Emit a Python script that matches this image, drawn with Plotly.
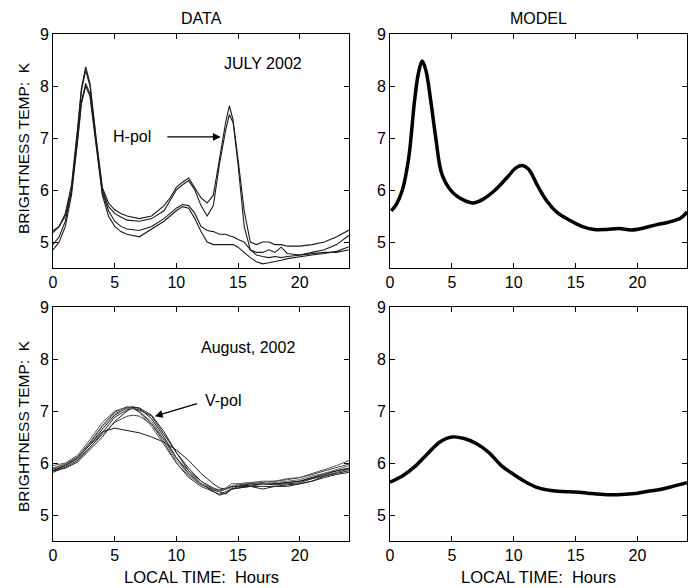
import plotly.graph_objects as go

# ---------------- DATA ----------------
# Top-left: July 2002 data, H-pol
x_jul = [0, 0.5, 1, 1.5, 2, 2.3, 2.65, 3, 3.5, 4, 4.5, 5, 5.5, 6, 7, 8, 9, 9.5, 10, 10.5,
         11, 11.5, 12, 12.5, 13, 13.5, 14, 14.3, 14.6, 15, 15.5, 16, 16.5, 17, 17.5, 18,
         18.5, 19, 20, 21, 22, 23, 24]
jul_a = [5.18, 5.3, 5.55, 6.1, 7.2, 7.95, 8.37, 8.05, 7.0, 6.05, 5.75, 5.62, 5.55, 5.5, 5.45,
         5.5, 5.7, 5.85, 6.05, 6.15, 6.23, 6.05, 5.85, 5.75, 5.9, 6.6, 7.3, 7.62, 7.35, 6.6,
         5.6, 5.0, 4.95, 5.0, 5.0, 4.95, 4.95, 4.92, 4.92, 4.95, 5.0, 5.1, 5.23]
jul_b = [4.95, 5.1, 5.4, 6.0, 7.15, 7.9, 8.3, 8.0, 6.95, 6.0, 5.68, 5.55, 5.48, 5.42, 5.4,
         5.45, 5.6, 5.8, 6.0, 6.1, 6.18, 6.0, 5.7, 5.5, 5.7, 6.5, 7.15, 7.45, 7.3, 6.5,
         5.3, 4.85, 4.8, 4.8, 4.85, 4.8, 4.9, 4.78, 4.75, 4.8, 4.85, 4.95, 5.13]
jul_c = [5.22, 5.3, 5.5, 6.0, 7.0, 7.7, 8.05, 7.85, 6.9, 5.95, 5.6, 5.4, 5.3, 5.25, 5.22,
         5.3, 5.45, 5.55, 5.65, 5.72, 5.7, 5.55, 5.3, 5.22, 5.2, 5.15, 5.15, 5.12, 5.1, 5.05,
         5.0, 4.85, 4.75, 4.72, 4.7, 4.72, 4.7, 4.72, 4.75, 4.78, 4.8, 4.8, 4.85]
jul_d = [4.85, 5.0, 5.3, 5.9, 6.95, 7.65, 8.0, 7.8, 6.85, 5.9, 5.5, 5.3, 5.2, 5.15, 5.1,
         5.25, 5.4, 5.5, 5.6, 5.68, 5.65, 5.45, 5.2, 5.0, 4.95, 4.95, 4.95, 4.95, 4.95, 4.9,
         4.8, 4.7, 4.62, 4.58, 4.6, 4.62, 4.65, 4.68, 4.72, 4.75, 4.78, 4.82, 4.91]

# Bottom-left: August 2002 data, V-pol
x_aug = [0, 1, 2, 3, 4, 5, 6, 6.5, 7, 8, 9, 10, 11, 12, 13, 13.5, 14, 14.5, 15, 16, 17, 18,
         19, 20, 21, 22, 23, 24]
aug_1 = [5.85, 5.95, 6.1, 6.35, 6.65, 6.92, 7.06, 7.08, 7.05, 6.85, 6.5, 6.1, 5.8, 5.6, 5.48,
         5.45, 5.5, 5.55, 5.55, 5.58, 5.6, 5.6, 5.62, 5.65, 5.72, 5.8, 5.85, 5.9]
aug_2 = [5.9, 5.98, 6.12, 6.4, 6.72, 6.98, 7.08, 7.07, 7.0, 6.75, 6.4, 6.0, 5.72, 5.55, 5.45,
         5.4, 5.45, 5.5, 5.55, 5.55, 5.6, 5.58, 5.6, 5.62, 5.7, 5.75, 5.82, 5.88]
aug_3 = [5.82, 5.92, 6.05, 6.3, 6.58, 6.88, 7.02, 7.05, 7.02, 6.9, 6.55, 6.2, 5.9, 5.65, 5.5,
         5.45, 5.4, 5.5, 5.52, 5.55, 5.55, 5.55, 5.58, 5.6, 5.65, 5.75, 5.8, 5.85]
aug_4 = [5.88, 5.95, 6.08, 6.3, 6.55, 6.78, 6.9, 6.92, 6.9, 6.75, 6.45, 6.1, 5.85, 5.65, 5.52,
         5.48, 5.5, 5.55, 5.58, 5.6, 5.62, 5.65, 5.68, 5.72, 5.78, 5.85, 5.92, 5.98]
aug_5 = [5.85, 5.95, 6.1, 6.35, 6.6, 6.67, 6.63, 6.6, 6.58, 6.5, 6.4, 6.25, 6.05, 5.8, 5.6,
         5.52, 5.5, 5.55, 5.55, 5.6, 5.6, 5.6, 5.62, 5.65, 5.7, 5.78, 5.85, 5.9]
aug_6 = [5.95, 6.0, 6.15, 6.45, 6.78, 7.0, 7.07, 7.05, 6.98, 6.7, 6.35, 6.0, 5.75, 5.58, 5.5,
         5.48, 5.52, 5.6, 5.6, 5.62, 5.65, 5.65, 5.7, 5.72, 5.8, 5.88, 5.95, 6.05]
aug_7 = [5.85, 5.9, 6.02, 6.25, 6.5, 6.8, 7.0, 7.07, 7.06, 6.92, 6.6, 6.2, 5.85, 5.6, 5.45,
         5.38, 5.42, 5.5, 5.52, 5.55, 5.5, 5.55, 5.55, 5.6, 5.65, 5.72, 5.78, 5.82]
aug_8 = [5.9, 5.98, 6.1, 6.38, 6.7, 6.95, 7.05, 7.04, 6.98, 6.8, 6.45, 6.05, 5.78, 5.6, 5.5,
         5.45, 5.5, 5.52, 5.6, 5.62, 5.6, 5.62, 5.65, 5.68, 5.75, 5.8, 5.88, 5.95]

# Top-right: model (July)
x_mod1 = [0.1, 0.5, 1, 1.5, 2, 2.3, 2.6, 2.9, 3.3, 3.7, 4.2, 5, 6, 6.7, 7.5, 8.5, 9.5, 10.2,
          10.7, 11.2, 12, 12.7, 13.5, 14.5, 15.5, 16.5, 17.5, 18.5, 19.5, 20.5, 21.5, 22.5,
          23.5, 24]
y_mod1 = [5.6, 5.72, 6.0, 6.6, 7.75, 8.25, 8.48, 8.3, 7.7, 7.0, 6.3, 5.97, 5.8, 5.75, 5.82,
          6.0, 6.25, 6.43, 6.47, 6.4, 6.05, 5.78, 5.57, 5.42, 5.3, 5.24, 5.24, 5.26, 5.23,
          5.27, 5.33, 5.38, 5.46, 5.58]

# Bottom-right: model (August)
x_mod2 = [0, 1, 2, 3, 4, 5, 6, 7, 8, 9, 10, 11, 12, 13, 14, 15, 16, 17, 18, 19, 20, 21, 22,
          23, 24]
y_mod2 = [5.63, 5.75, 5.93, 6.17, 6.4, 6.5, 6.47, 6.37, 6.2, 5.95, 5.78, 5.63, 5.52, 5.47,
          5.45, 5.44, 5.42, 5.4, 5.39, 5.4, 5.42, 5.46, 5.5, 5.56, 5.62]

x_ticks = [0, 5, 10, 15, 20]
y_ticks = [5, 6, 7, 8, 9]

# ---------------- FIGURE ----------------
FONT = "Liberation Sans, Arial, Helvetica, sans-serif"
fig = go.Figure()

for ys in [jul_a, jul_b, jul_c, jul_d]:
    fig.add_trace(go.Scatter(x=x_jul, y=ys, mode="lines", xaxis="x", yaxis="y",
                             line=dict(color="#1a1a1a", width=1.1), showlegend=False))

fig.add_trace(go.Scatter(x=x_mod1, y=y_mod1, mode="lines", xaxis="x2", yaxis="y2",
                         line=dict(color="black", width=3.5, shape="spline"), showlegend=False))

aug_colors = ["#111", "#333", "#222", "#444", "#1a1a1a", "#555", "#222", "#666"]
for ys, c in zip([aug_1, aug_2, aug_3, aug_4, aug_5, aug_6, aug_7, aug_8], aug_colors):
    fig.add_trace(go.Scatter(x=x_aug, y=ys, mode="lines", xaxis="x3", yaxis="y3",
                             line=dict(color=c, width=1.0), showlegend=False))

fig.add_trace(go.Scatter(x=x_mod2, y=y_mod2, mode="lines", xaxis="x4", yaxis="y4",
                         line=dict(color="black", width=3.5, shape="spline"), showlegend=False))

W, H = 695, 588
def xd(a, b):
    return [a / W, b / W]
def yd(top, bot):
    return [1 - bot / H, 1 - top / H]

tickfont = dict(family=FONT, size=16, color="black")
ax_common = dict(range=[0, 24], tickvals=x_ticks, ticks="inside", ticklen=5,
                 showline=True, linecolor="black", linewidth=1, mirror="ticks",
                 showgrid=False, zeroline=False, tickcolor="black", tickfont=tickfont)
ay_common = dict(range=[4.5, 9], tickvals=y_ticks, ticks="inside", ticklen=5,
                 showline=True, linecolor="black", linewidth=1, mirror="ticks",
                 showgrid=False, zeroline=False, tickcolor="black", tickfont=tickfont)

L, R = xd(53, 349), xd(390, 687)
T, B = yd(34, 268), yd(307, 541)

fig.update_layout(
    width=W, height=H, margin=dict(l=0, r=0, t=0, b=0, autoexpand=False),
    paper_bgcolor="white", plot_bgcolor="white",
    xaxis=dict(ax_common, domain=L, anchor="y"),
    yaxis=dict(ay_common, domain=T, anchor="x"),
    xaxis2=dict(ax_common, domain=R, anchor="y2"),
    yaxis2=dict(ay_common, domain=T, anchor="x2"),
    xaxis3=dict(ax_common, domain=L, anchor="y3"),
    yaxis3=dict(ay_common, domain=B, anchor="x3"),
    xaxis4=dict(ax_common, domain=R, anchor="y4"),
    yaxis4=dict(ay_common, domain=B, anchor="x4"),
)

tf = dict(family=FONT, size=16, color="black")
C = dict(xanchor="center", yanchor="middle", showarrow=False)
ann = []
# Column titles
ann.append(dict(C, text="DATA", x=201 / W, y=1 - 19 / H, xref="paper", yref="paper", font=tf))
ann.append(dict(C, text="MODEL", x=538 / W, y=1 - 19 / H, xref="paper", yref="paper", font=tf))
# Y axis titles
for yc in [148, 426]:
    ann.append(dict(C, text="BRIGHTNESS TEMP:  K", x=23 / W, y=1 - yc / H, xref="paper",
                    yref="paper", textangle=-90,
                    font=dict(family=FONT, size=15.5, color="black")))
# X axis titles
for xc in [201, 538]:
    ann.append(dict(C, text="LOCAL TIME:  Hours", x=xc / W, y=1 - 577 / H, xref="paper",
                    yref="paper", font=dict(family=FONT, size=16.5, color="black")))
# In-panel labels
ann.append(dict(C, text="JULY 2002", x=17.0, y=8.44, xref="x", yref="y", font=tf))
ann.append(dict(C, text="H-pol", x=6.4, y=7.02, xref="x", yref="y", font=tf))
ann.append(dict(text="", x=13.6, y=7.02, ax=9.15, ay=7.02, xref="x", yref="y",
                axref="x", ayref="y", showarrow=True, arrowhead=2, arrowsize=1.3,
                arrowwidth=1.2, arrowcolor="black"))
ann.append(dict(C, text="August, 2002", x=15.8, y=8.23, xref="x3", yref="y3", font=tf))
ann.append(dict(C, text="V-pol", x=13.8, y=7.21, xref="x3", yref="y3", font=tf))
ann.append(dict(text="", x=8.26, y=6.90, ax=11.8, ay=7.15, xref="x3", yref="y3",
                axref="x3", ayref="y3", showarrow=True, arrowhead=2, arrowsize=1.3,
                arrowwidth=1.2, arrowcolor="black"))
fig.update_layout(annotations=ann)

fig.write_html("out.html", config={"displayModeBar": False},
               post_script="document.body.style.margin='0';"
                           "document.body.style.padding='0';")
